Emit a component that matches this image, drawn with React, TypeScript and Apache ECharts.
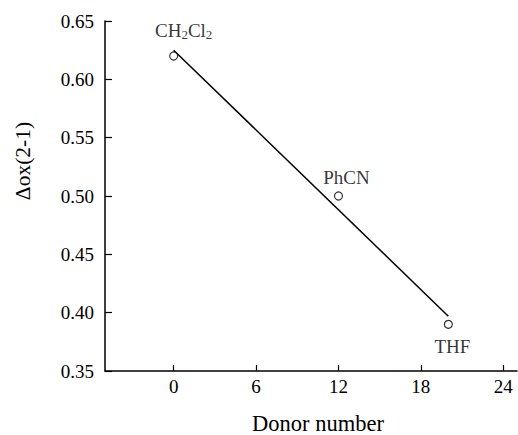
import React, { useEffect, useRef } from "react";
import * as echarts from "echarts";

const solvents = ["CH2Cl2", "PhCN", "THF"];
const donorNumbers = [0, 12, 20];
const deltaOx = [0.62, 0.5, 0.39];
const fitX = [0, 20];
const fitY = [0.625, 0.397];
const xTicks = [0, 6, 12, 18, 24];

const FONT = "Liberation Serif";

const labelFormats: Record<string, string> = {
  CH2Cl2: "{a|CH}{s|2}{a|Cl}{s|2}",
  PhCN: "{a|PhCN}",
  THF: "{a|THF}",
};
const labelOffsets: Record<string, number[]> = {
  CH2Cl2: [10, -26],
  PhCN: [8, -19],
  THF: [4, 22],
};

export default function App() {
  const ref = useRef<HTMLDivElement>(null);
  useEffect(() => {
    if (!ref.current) return;
    const chart = echarts.init(ref.current, null, { renderer: "svg" });
    const rich = {
      a: { fontFamily: FONT, fontSize: 19, color: "#000" },
      s: { fontFamily: FONT, fontSize: 13, color: "#000", padding: [9, 0, 0, 0] },
      t: { fontFamily: FONT, fontSize: 21.5, color: "#000" },
      u: { fontFamily: FONT, fontSize: 22.5, color: "#000" },
    };
    chart.setOption({
      animation: false,
      backgroundColor: "#fff",
      textStyle: { fontFamily: FONT },
      grid: { left: 105, right: 1, top: 21, bottom: 64 },
      xAxis: {
        type: "value",
        min: -5,
        max: 25,
        splitLine: { show: false },
        axisLine: { onZero: false, lineStyle: { color: "#000", width: 1.5 } },
        axisTick: {
          inside: true,
          length: 6,
          customValues: xTicks,
          lineStyle: { color: "#000", width: 1.2 },
        },
        axisLabel: {
          customValues: xTicks,
          fontFamily: FONT,
          fontSize: 19,
          color: "#000",
          margin: 6,
          formatter: (v: number) => `{a|${v}}`,
          rich,
        },
      },
      yAxis: {
        type: "value",
        min: 0.35,
        max: 0.65,
        interval: 0.05,
        splitLine: { show: false },
        axisLine: { show: true, onZero: false, lineStyle: { color: "#000", width: 1.5 } },
        axisTick: { show: true, inside: true, length: 7, lineStyle: { color: "#000", width: 1.2 } },
        axisLabel: {
          fontFamily: FONT,
          fontSize: 19,
          color: "#000",
          margin: 11,
          formatter: (v: number) => `{a|${v.toFixed(2)}}`,
          rich,
        },
      },
      graphic: [
        {
          type: "text",
          x: 23,
          y: 161,
          rotation: Math.PI / 2,
          style: {
            text: "{t|Δox(2-1)}",
            rich,
            fill: "#000",
            align: "center",
            verticalAlign: "middle",
          },
        },
        {
          type: "text",
          x: 318,
          y: 423,
          style: {
            text: "{u|Donor number}",
            rich,
            fill: "#000",
            align: "center",
            verticalAlign: "middle",
          },
        },
      ],
      series: [
        {
          type: "line",
          data: fitX.map((x, i) => [x, fitY[i]]),
          showSymbol: false,
          symbol: "none",
          lineStyle: { color: "#000", width: 1.5 },
          z: 2,
        },
        {
          type: "scatter",
          symbol: "circle",
          symbolSize: 8,
          itemStyle: { color: "#fff", borderColor: "#000", borderWidth: 1.2 },
          z: 3,
          data: solvents.map((name, i) => ({
            name,
            value: [donorNumbers[i], deltaOx[i]],
            label: {
              show: true,
              position: "inside",
              offset: labelOffsets[name],
              formatter: labelFormats[name],
              rich,
            },
          })),
        },
      ],
    });
    return () => chart.dispose();
  }, []);
  return (
    <div
      ref={ref}
      style={{ position: "fixed", left: 0, top: 0, width: 518, height: 435, background: "#fff" }}
    />
  );
}
